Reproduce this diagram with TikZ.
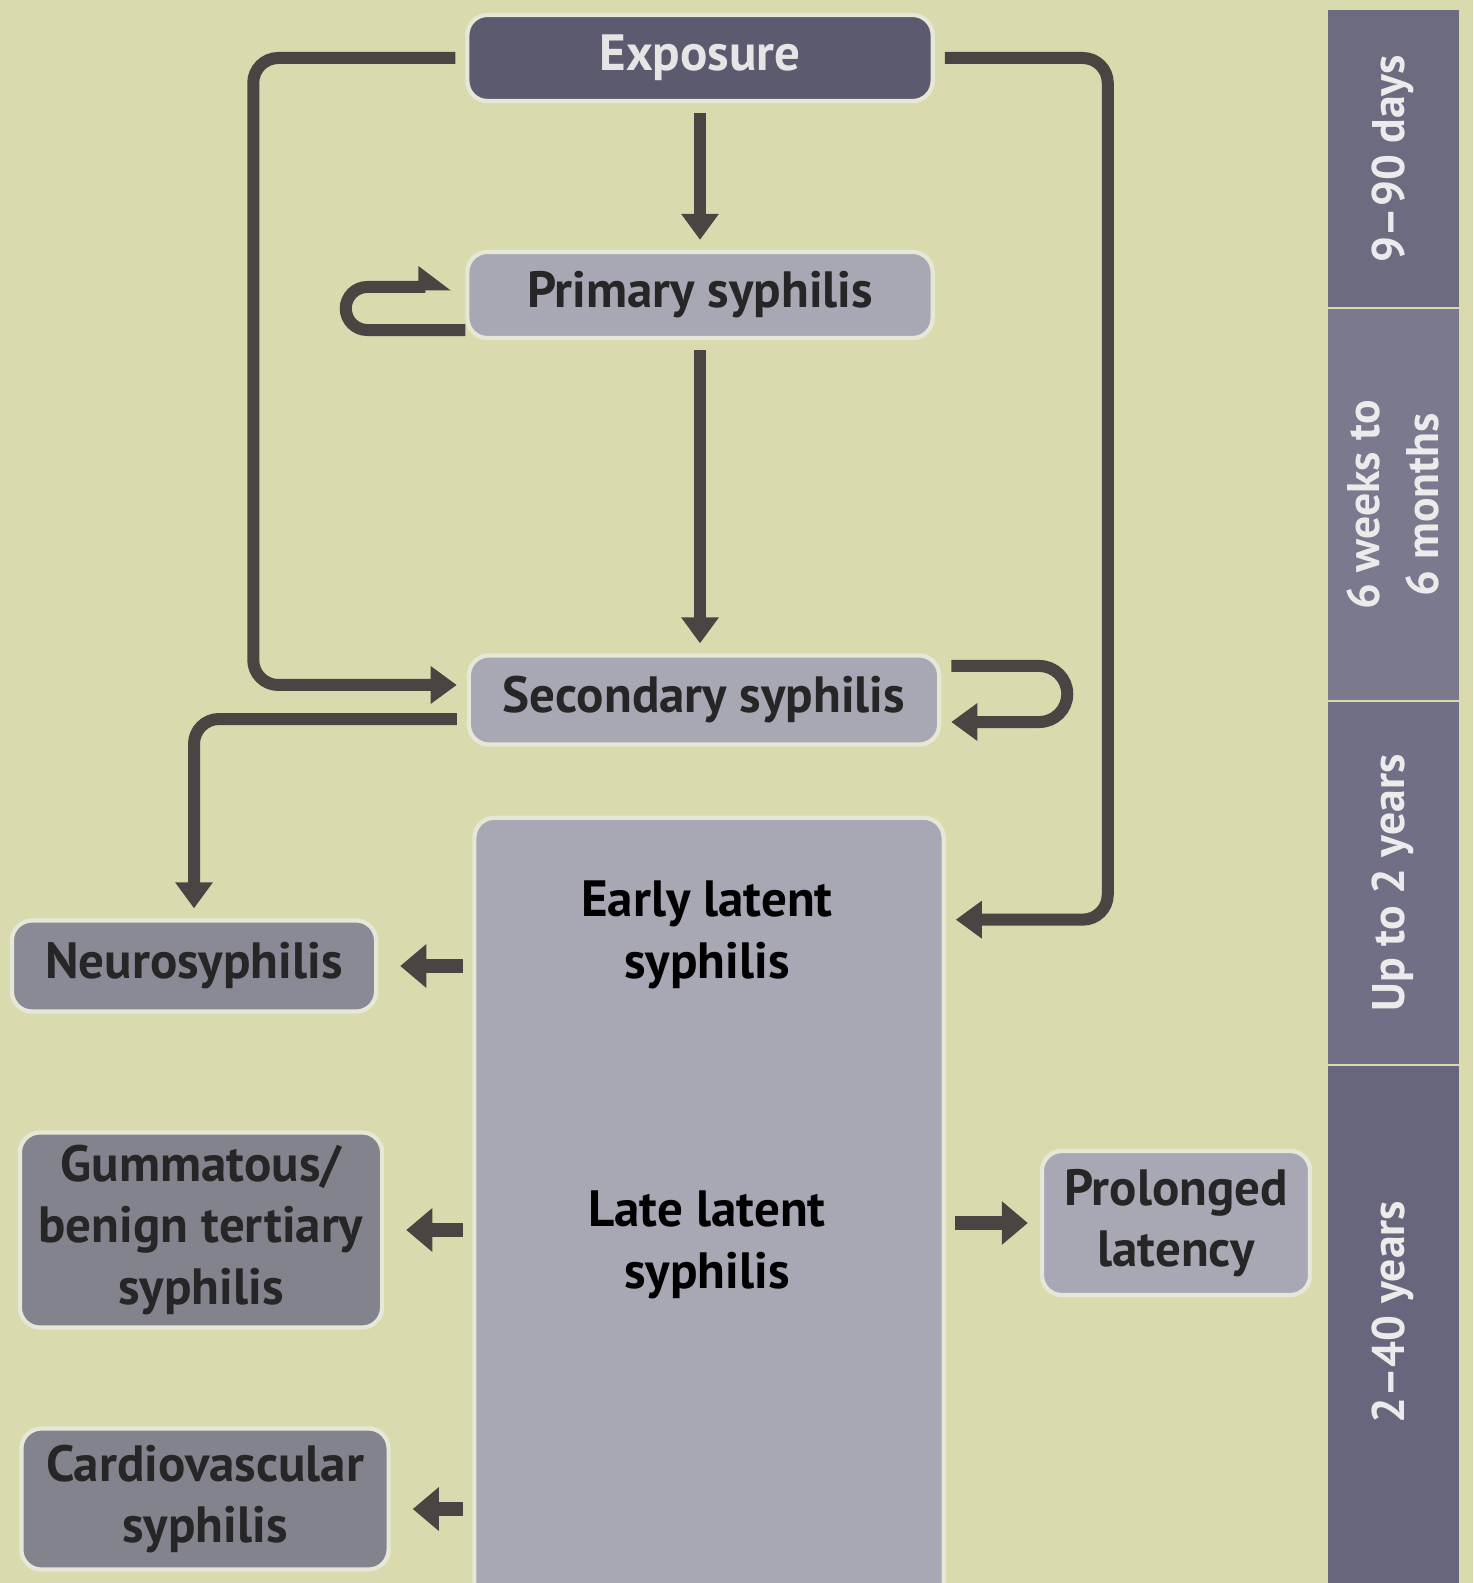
\documentclass[tikz,border=0pt]{standalone}
\usepackage{fontspec}
\setmainfont{PT Sans}
\usetikzlibrary{arrows.meta,calc}
\definecolor{bg}{HTML}{D9DBAF}
\definecolor{lc}{HTML}{4A4542}
\definecolor{edge}{HTML}{E6E7D6}
\definecolor{dark}{HTML}{5C5A6E}
\definecolor{light}{HTML}{A8A8B5}
\definecolor{mid}{HTML}{8A8A96}
\definecolor{barA}{HTML}{6D6B80}
\definecolor{barB}{HTML}{7A798D}
\definecolor{barC}{HTML}{706F85}
\definecolor{barD}{HTML}{67667C}
\begin{document}
\begin{tikzpicture}[x=0.01cm,y=-0.01cm,
  font=\bfseries\fontsize{14.5}{17.5}\selectfont,
  box/.style={rounded corners=0.2cm, draw=edge, line width=1.2pt, align=center, inner sep=0pt, text=black!85},
  conn/.style={draw=lc, line width=0.12cm, rounded corners=0.25cm, shorten <=0.1cm, shorten >=0.1cm,
    -{Triangle[width=0.36cm,length=0.26cm]}},
  short/.style={draw=lc, line width=0.14cm, shorten <=0.09cm, shorten >=0.22cm,
    -{Triangle[width=0.42cm,length=0.26cm]}},
  bartext/.style={rotate=90, text=white!92!black, align=center, font=\bfseries\fontsize{13}{17}\selectfont}]
\useasboundingbox (0,0) rectangle (1473,1583);
\clip (0,0) rectangle (1473,1583);
\fill[bg] (0,0) rectangle (1473,1583);

% time bar
\fill[barA] (1328,10) rectangle (1459,307);
\fill[barB] (1328,309) rectangle (1459,700);
\fill[barC] (1328,702) rectangle (1459,1064);
\fill[barD] (1328,1066) rectangle (1459,1600);
\node[bartext] (t1) at (1393,159) {9--90 days};
\node[bartext] (t2) at (1393,505) {6 weeks to\\6 months};
\node[bartext] (t3) at (1393,883) {Up to 2 years};
\node[bartext] (t4) at (1393,1312) {2--40 years};

% nodes
\node[box, fill=dark, text=white!90!black, minimum width=4.65cm, minimum height=0.86cm] (exp) at (700,58) {Exposure};
\node[box, fill=light, minimum width=4.65cm, minimum height=0.86cm] (prim) at (700,295) {Primary syphilis};
\node[box, fill=light, minimum width=4.70cm, minimum height=0.89cm] (sec) at (704,700) {Secondary syphilis};
\node[box, fill=light, minimum width=4.69cm, minimum height=8.22cm] (lat) at (709,1229) {};
\node[align=center] (early) at (707,935) {Early latent\\syphilis};
\node[align=center] (late) at (707,1245) {Late latent\\syphilis};
\node[box, fill=mid, minimum width=3.64cm, minimum height=0.91cm] (neuro) at (194,966) {Neurosyphilis};
\node[box, fill=mid!95!black, minimum width=3.62cm, minimum height=1.95cm] (gum) at (201,1230) {Gummatous/\\benign tertiary\\syphilis};
\node[box, fill=mid!95!black, minimum width=3.67cm, minimum height=1.41cm] (card) at (205,1499) {Cardiovascular\\syphilis};
\node[box, fill=light, minimum width=2.68cm, minimum height=1.44cm] (prol) at (1176,1223) {Prolonged\\latency};

\coordinate (latr) at ($(lat.north east)+(0,104)$);

% connectors
\draw[conn] (exp.south) -- (exp.south |- prim.north);
\draw[conn] (prim.south) -- (prim.south |- sec.north);
\draw[conn] (exp.west) -- ++(-212,0) |- ([yshift=0.15cm]sec.west);
\draw[conn] (exp.east) -- ++(173,0) |- (latr);
\draw[conn] ([yshift=-0.19cm]sec.west) -| (neuro.north);
\draw[conn, rounded corners=0pt] ([yshift=0.34cm]sec.east) -- ++(98,0)
  arc[start angle=90, end angle=-90, radius=0.28cm] -- ([yshift=-0.22cm]sec.east);
\draw[conn, rounded corners=0pt, shorten <=0pt, shorten >=0.14cm, -{Triangle[harpoon,width=0.4cm,length=0.28cm]}]
  ([yshift=-0.35cm]prim.west) -- ++(-98,0)
  arc[start angle=-90, end angle=-270, radius=0.215cm] -- ([yshift=0.08cm]prim.west);

\draw[short] (lat.west |- neuro.east) -- (neuro.east);
\draw[short] (lat.west |- gum.east) -- (gum.east);
\draw[short] ([yshift=-0.1cm]lat.west |- card.east) -- ([yshift=-0.1cm]card.east);
\draw[short, shorten >=0.12cm] (lat.east |- prol.west) -- (prol.west);
\end{tikzpicture}
\end{document}
